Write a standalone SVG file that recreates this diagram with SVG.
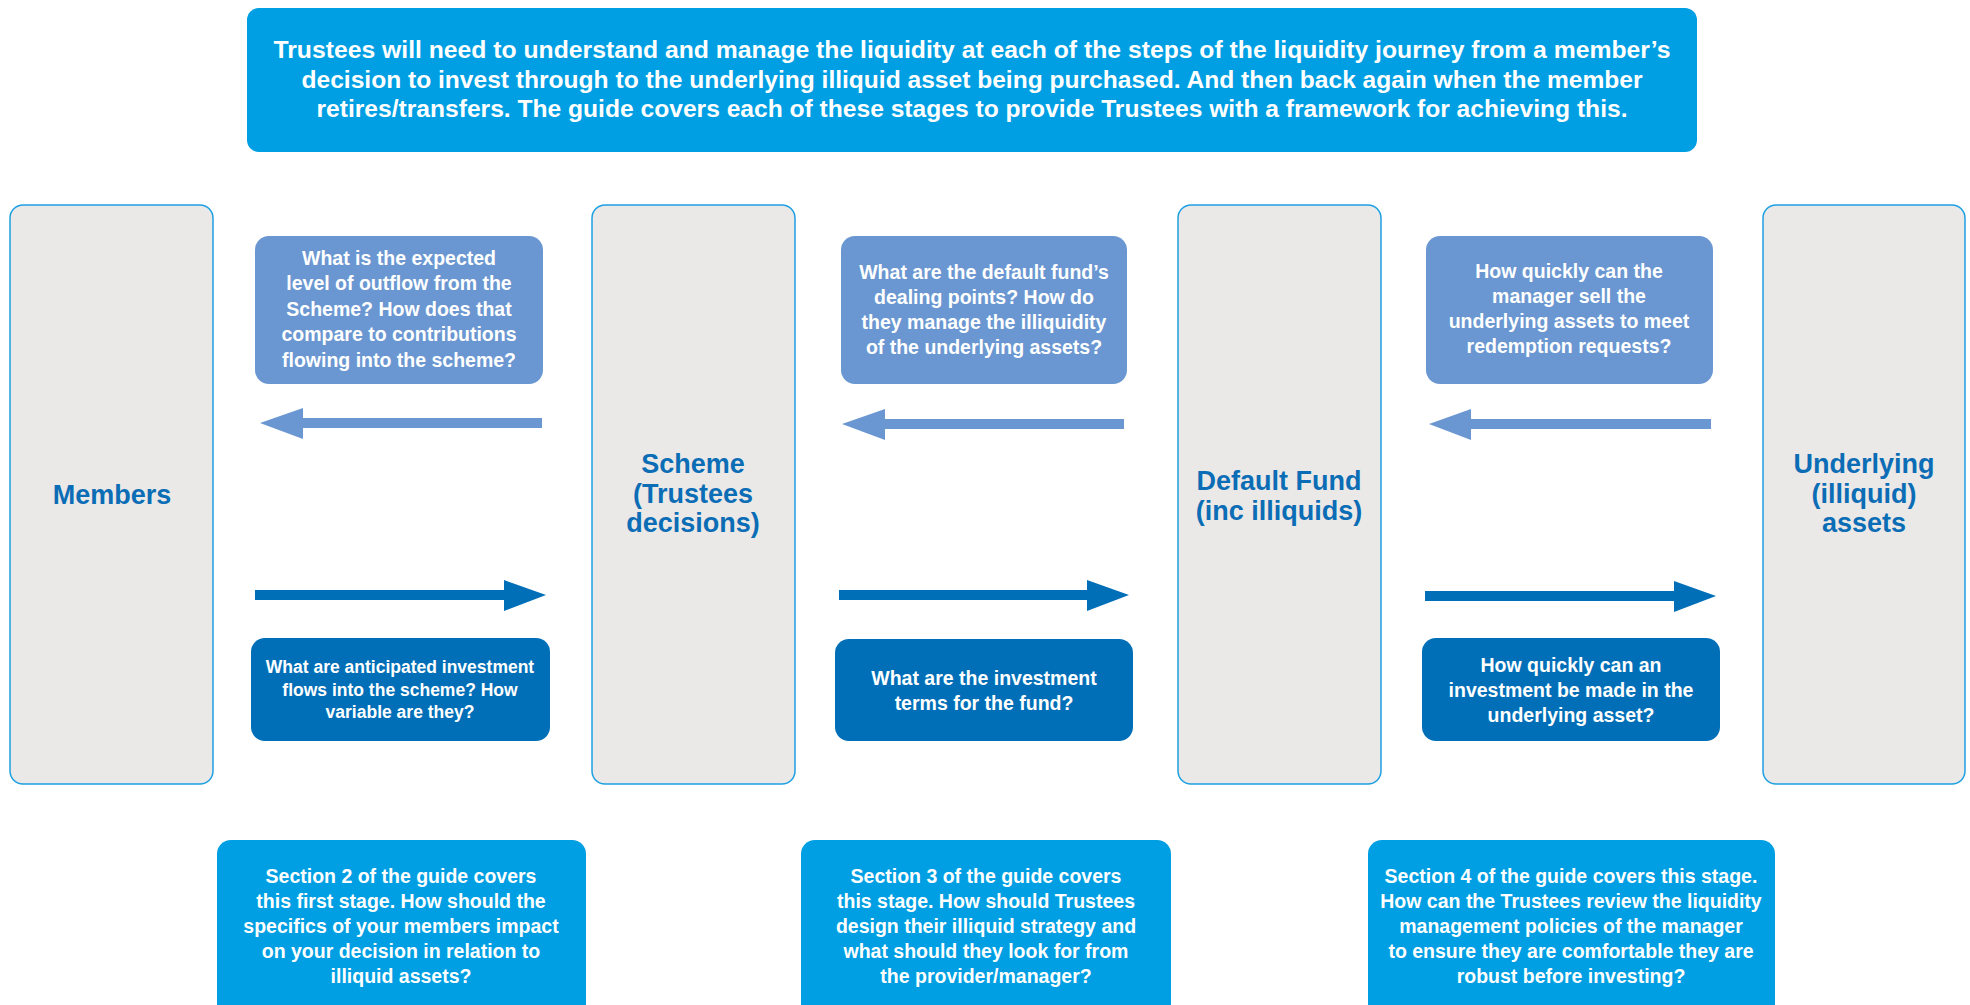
<svg xmlns="http://www.w3.org/2000/svg" width="1970" height="1005" viewBox="0 0 1970 1005">
<style>
.t{font-family:"Liberation Sans",Arial,sans-serif;font-weight:bold;text-anchor:middle;fill:#ffffff}
.lbl{font-family:"Liberation Sans",Arial,sans-serif;font-weight:bold;text-anchor:middle;fill:#0b6db5;font-size:27px}
.col{fill:#ebe9e7;stroke:#1ea0e2;stroke-width:1.5}
.hdr{fill:#009fe3}
.lt{fill:#6a97d1}
.dk{fill:#006fb8}
</style>
<rect width="1970" height="1005" fill="#ffffff"/>
<g id="header">
<rect class="hdr" x="247" y="8" width="1450" height="144" rx="12"/>
<text class="t" font-size="23.5"><tspan x="972" y="58" textLength="1397" lengthAdjust="spacingAndGlyphs">Trustees will need to understand and manage the liquidity at each of the steps of the liquidity journey from a member’s</tspan><tspan x="972" y="88" textLength="1341" lengthAdjust="spacingAndGlyphs">decision to invest through to the underlying illiquid asset being purchased. And then back again when the member</tspan><tspan x="972" y="117" textLength="1311" lengthAdjust="spacingAndGlyphs">retires/transfers. The guide covers each of these stages to provide Trustees with a framework for achieving this.</tspan></text>
</g>
<g id="members">
<rect class="col" x="10" y="205" width="203" height="579" rx="13"/>
<text class="lbl" x="112" y="504">Members</text>
</g>
<g id="scheme">
<rect class="col" x="592" y="205" width="203" height="579" rx="13"/>
<text class="lbl"><tspan x="693" y="473">Scheme</tspan><tspan x="693" y="503">(Trustees</tspan><tspan x="693" y="532">decisions)</tspan></text>
</g>
<g id="default-fund">
<rect class="col" x="1178" y="205" width="203" height="579" rx="13"/>
<text class="lbl"><tspan x="1279" y="490">Default Fund</tspan><tspan x="1279" y="520">(inc illiquids)</tspan></text>
</g>
<g id="underlying">
<rect class="col" x="1763" y="205" width="202" height="579" rx="13"/>
<text class="lbl"><tspan x="1864" y="473">Underlying</tspan><tspan x="1864" y="503">(illiquid)</tspan><tspan x="1864" y="532">assets</tspan></text>
</g>
<g id="q-out-1">
<rect class="lt" x="255" y="236" width="288" height="148" rx="14"/>
<text class="t" font-size="19.5"><tspan x="399" y="265">What is the expected</tspan><tspan x="399" y="290">level of outflow from the</tspan><tspan x="399" y="316">Scheme? How does that</tspan><tspan x="399" y="341">compare to contributions</tspan><tspan x="399" y="367">flowing into the scheme?</tspan></text>
</g>
<g id="q-out-2">
<rect class="lt" x="841" y="236" width="286" height="148" rx="14"/>
<text class="t" font-size="19.5"><tspan x="984" y="279">What are the default fund’s</tspan><tspan x="984" y="304">dealing points? How do</tspan><tspan x="984" y="329">they manage the illiquidity</tspan><tspan x="984" y="354">of the underlying assets?</tspan></text>
</g>
<g id="q-out-3">
<rect class="lt" x="1426" y="236" width="287" height="148" rx="14"/>
<text class="t" font-size="19.5"><tspan x="1569" y="278">How quickly can the</tspan><tspan x="1569" y="303">manager sell the</tspan><tspan x="1569" y="328">underlying assets to meet</tspan><tspan x="1569" y="353">redemption requests?</tspan></text>
</g>
<g id="q-in-1">
<rect class="dk" x="251" y="638" width="299" height="103" rx="14"/>
<text class="t" font-size="17.5"><tspan x="400" y="673">What are anticipated investment</tspan><tspan x="400" y="696">flows into the scheme? How</tspan><tspan x="400" y="718">variable are they?</tspan></text>
</g>
<g id="q-in-2">
<rect class="dk" x="835" y="639" width="298" height="102" rx="14"/>
<text class="t" font-size="19.5"><tspan x="984" y="685">What are the investment</tspan><tspan x="984" y="710">terms for the fund?</tspan></text>
</g>
<g id="q-in-3">
<rect class="dk" x="1422" y="638" width="298" height="103" rx="14"/>
<text class="t" font-size="19.5"><tspan x="1571" y="672">How quickly can an</tspan><tspan x="1571" y="697">investment be made in the</tspan><tspan x="1571" y="722">underlying asset?</tspan></text>
</g>
<g id="section-2">
<rect class="hdr" x="217" y="840" width="369" height="185" rx="14"/>
<text class="t" font-size="19.5"><tspan x="401" y="883">Section 2 of the guide covers</tspan><tspan x="401" y="908">this first stage. How should the</tspan><tspan x="401" y="933">specifics of your members impact</tspan><tspan x="401" y="958">on your decision in relation to</tspan><tspan x="401" y="983">illiquid assets?</tspan></text>
</g>
<g id="section-3">
<rect class="hdr" x="801" y="840" width="370" height="185" rx="14"/>
<text class="t" font-size="19.5"><tspan x="986" y="883">Section 3 of the guide covers</tspan><tspan x="986" y="908">this stage. How should Trustees</tspan><tspan x="986" y="933">design their illiquid strategy and</tspan><tspan x="986" y="958">what should they look for from</tspan><tspan x="986" y="983">the provider/manager?</tspan></text>
</g>
<g id="section-4">
<rect class="hdr" x="1368" y="840" width="407" height="185" rx="14"/>
<text class="t" font-size="19.5"><tspan x="1571" y="883">Section 4 of the guide covers this stage.</tspan><tspan x="1571" y="908">How can the Trustees review the liquidity</tspan><tspan x="1571" y="933">management policies of the manager</tspan><tspan x="1571" y="958">to ensure they are comfortable they are</tspan><tspan x="1571" y="983">robust before investing?</tspan></text>
</g>
<g id="connectors">
<polygon class="lt" points="260,423 303,408 303,418 542,418 542,428 303,428 303,439"/>
<polygon class="lt" points="842,424 885,409 885,419 1124,419 1124,429 885,429 885,440"/>
<polygon class="lt" points="1429,424 1471,409 1471,419 1711,419 1711,429 1471,429 1471,440"/>
<polygon class="dk" points="255,590 504,590 504,580 546,595 504,611 504,600 255,600"/>
<polygon class="dk" points="839,590 1087,590 1087,580 1129,595 1087,611 1087,600 839,600"/>
<polygon class="dk" points="1425,591 1674,591 1674,581 1716,596 1674,612 1674,601 1425,601"/>
</g>
</svg>
